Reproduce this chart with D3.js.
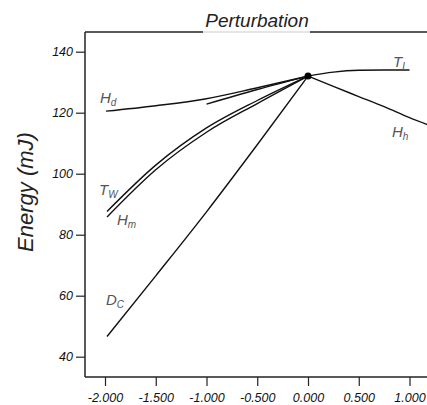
<!DOCTYPE html>
<html>
<head>
<meta charset="utf-8">
<script src="https://cdn.jsdelivr.net/npm/d3@7"></script>
<style>
  body { margin: 0; background: #fff; }
  svg { display: block; font-family: "Liberation Sans", Arial, sans-serif; }
  .tick text { font-style: italic; font-size: 12.5px; fill: #111; }
  .curve { fill: none; stroke: #111; stroke-width: 1.4; }
  .lbl { font-style: italic; font-size: 15px; fill: #555; }
</style>
</head>
<body>
<div id="chart"></div>
<script>
// perturbation (x) vs energy (mJ) for each parameter
const xHd  = [-1.99, -1.5, -1.015, -0.52, 0];
const yHd  = [120.5, 122.3, 124.5, 128.0, 132];
const xTan = [-1.0, -0.5, 0];
const yTan = [122.8, 127.6, 132];
const xTw  = [-1.98, -1.5, -1.0, -0.5, 0];
const yTw  = [87.6, 102.8, 115.0, 124.0, 132];
const xHm  = [-1.98, -1.5, -1.0, -0.5, 0];
const yHm  = [85.8, 101.3, 113.6, 123.0, 132];
const xDc  = [-1.98, -1.5, -1.0, -0.5, 0];
const yDc  = [46.6, 66.5, 87.5, 109.5, 132];
const xTL  = [0, 0.25, 0.5, 0.75, 1.0];
const yTL  = [132, 133.3, 133.9, 134.0, 134.0];
const xHh  = [0, 0.25, 0.5, 0.75, 1.0, 1.25];
const yHh  = [132, 128.6, 125.3, 122.0, 118.4, 115.2];
const xTicks = [-2, -1.5, -1, -0.5, 0, 0.5, 1];
const yTicks = [40, 60, 80, 100, 120, 140];

const W = 427, H = 405;
const svg = d3.select('#chart').append('svg').attr('width', W).attr('height', H);

const x = d3.scaleLinear().domain([-2.2, 1.4]).range([84.7, 450.1]);
const y = d3.scaleLinear().domain([33.34, 146.46]).range([377, 32]);

// axes
svg.append('g')
  .attr('transform', 'translate(85,0)')
  .call(d3.axisLeft(y).tickValues(yTicks).tickSize(9).tickPadding(3).tickFormat(d3.format('d')))
  .call(g => g.select('.domain').attr('d', 'M0,32V377').attr('stroke', '#222').attr('stroke-width', 1.5))
  .call(g => g.selectAll('.tick line').attr('stroke', '#222').attr('stroke-width', 1.2));

svg.append('g')
  .attr('transform', 'translate(0,377)')
  .call(d3.axisBottom(x).tickValues(xTicks).tickSize(9).tickPadding(7).tickFormat(d => d.toFixed(3)))
  .call(g => g.select('.domain').attr('d', 'M85,0H' + W).attr('stroke', '#222').attr('stroke-width', 1.5))
  .call(g => g.selectAll('.tick line').attr('stroke', '#222').attr('stroke-width', 1.2));

// top frame with a break under the title
svg.append('path').attr('d', 'M85,32H203').attr('stroke', '#222').attr('stroke-width', 1.5);
svg.append('path').attr('d', 'M203,32H310').attr('stroke', '#ccc').attr('stroke-width', 1.2);
svg.append('path').attr('d', 'M310,32H' + W).attr('stroke', '#222').attr('stroke-width', 1.5);

svg.append('text').attr('x', 257).attr('y', 27).attr('text-anchor', 'middle')
  .style('font-style', 'italic').style('font-size', '19px').attr('fill', '#222').text('Perturbation');

svg.append('text').attr('transform', 'translate(33,192) rotate(-90)').attr('text-anchor', 'middle')
  .style('font-style', 'italic').style('font-size', '22px').attr('fill', '#222').text('Energy (mJ)');

// curves
const line = d3.line().x(d => x(d[0])).y(d => y(d[1])).curve(d3.curveMonotoneX);
const series = [[xHd, yHd], [xTan, yTan], [xTw, yTw], [xHm, yHm], [xDc, yDc], [xTL, yTL], [xHh, yHh]];
svg.append('g').selectAll('path').data(series).join('path')
  .attr('class', 'curve')
  .attr('d', s => line(d3.zip(s[0], s[1])));

svg.append('circle').attr('cx', x(0)).attr('cy', y(132)).attr('r', 3.5).attr('fill', '#000');

// curve labels
const labels = [
  { m: 'H', s: 'd', x: 100, y: 103 },
  { m: 'T', s: 'L', x: 393, y: 67 },
  { m: 'H', s: 'h', x: 392, y: 137 },
  { m: 'T', s: 'W', x: 99, y: 195 },
  { m: 'H', s: 'm', x: 117, y: 225 },
  { m: 'D', s: 'C', x: 106, y: 305 }
];
const lg = svg.append('g').selectAll('text').data(labels).join('text')
  .attr('class', 'lbl').attr('x', d => d.x).attr('y', d => d.y);
lg.append('tspan').text(d => d.m);
lg.append('tspan').attr('dy', 3).style('font-size', '10px').text(d => d.s);
</script>
</body>
</html>
